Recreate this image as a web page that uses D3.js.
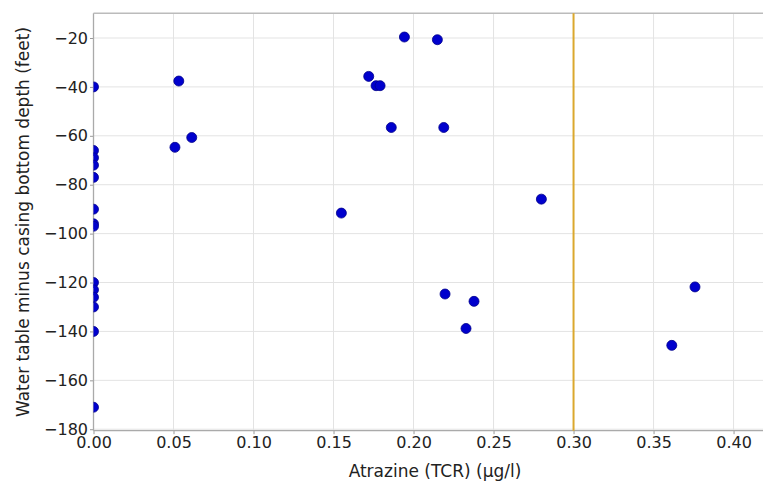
<!DOCTYPE html>
<html><head><meta charset="utf-8">
<script src="https://cdn.jsdelivr.net/npm/d3@7"></script>
<style>body{margin:0;background:#fff}svg{display:block}text{font-family:"DejaVu Sans",sans-serif}</style>
</head><body><svg id="c" width="763" height="483"></svg>
<script>
const atrazine = [0,0,0,0,0,0,0,0,0,0,0,0,0,0,
  0.0533,0.0509,0.0614,0.1943,0.2149,0.1720,0.1766,0.1791,0.1861,0.2189,0.1549,0.2197,0.2378,0.2328,0.2799,0.3759,0.3614];
const depth = [-40,-66,-69,-72,-77,-90,-96,-97,-120,-123,-126,-130,-140,-171,
  -37.6,-64.7,-60.7,-19.6,-20.7,-35.7,-39.5,-39.5,-56.6,-56.6,-91.6,-124.7,-127.7,-138.8,-85.9,-121.8,-145.7];
const xTicks = [0,0.05,0.10,0.15,0.20,0.25,0.30,0.35,0.40];
const yTicks = [-20,-40,-60,-80,-100,-120,-140,-160,-180];
const threshold = [0.30];
const xLabel = "Atrazine (TCR) (µg/l)";
const yLabel = "Water table minus casing bottom depth (feet)";

const L = 93.5, R = 763, T = 13.3, B = 430.7;
const x = d3.scaleLinear().domain([0, 0.4184]).range([L, R]);
const y = d3.scaleLinear().domain([-180.6, -9.9]).range([B, T]);
const svg = d3.select("#c");

svg.append("defs").append("clipPath").attr("id","clip")
  .append("rect").attr("x",L).attr("y",T).attr("width",R-L).attr("height",B-T);

// grid
svg.append("g").selectAll("line").data(xTicks).join("line")
  .attr("x1",d=>x(d)).attr("x2",d=>x(d)).attr("y1",T).attr("y2",B)
  .attr("stroke","#e3e3e3").attr("stroke-width",1);
svg.append("g").selectAll("line").data(yTicks).join("line")
  .attr("x1",L).attr("x2",R).attr("y1",d=>y(d)).attr("y2",d=>y(d))
  .attr("stroke","#e3e3e3").attr("stroke-width",1);

// axes
const fmtX = d3.format(".2f");
const gx = svg.append("g").attr("transform",`translate(0,${B})`)
  .call(d3.axisBottom(x).tickValues(xTicks).tickFormat(fmtX).tickSize(3.5).tickPadding(2.5));
const gy = svg.append("g").attr("transform",`translate(${L},0)`)
  .call(d3.axisLeft(y).tickValues(yTicks).tickFormat(d3.format("d")).tickSize(3.5).tickPadding(2));
[gx,gy].forEach(g=>{
  g.select(".domain").remove();
  g.selectAll(".tick line").attr("stroke","#999");
  g.selectAll(".tick text").attr("fill","#222").style("font-size","16px").style("font-family","DejaVu Sans");
});

// spines
svg.append("line").attr("x1",L).attr("x2",L).attr("y1",T).attr("y2",B).attr("stroke","#aaa").attr("stroke-width",1.3);
svg.append("line").attr("x1",L).attr("x2",R).attr("y1",T).attr("y2",T).attr("stroke","#bbb").attr("stroke-width",1.5);
svg.append("line").attr("x1",L).attr("x2",R).attr("y1",B).attr("y2",B).attr("stroke","#aaa").attr("stroke-width",1.3);

// threshold line
svg.append("g").selectAll("line").data(threshold).join("line")
  .attr("x1",d=>x(d)).attr("x2",d=>x(d)).attr("y1",T).attr("y2",B)
  .attr("stroke","#dba82e").attr("stroke-width",2);

// points
svg.append("g").attr("clip-path","url(#clip)").selectAll("circle")
  .data(atrazine.map((a,i)=>[a,depth[i]])).join("circle")
  .attr("cx",d=>x(d[0])).attr("cy",d=>y(d[1])).attr("r",5)
  .attr("fill","#0000cd").attr("stroke","#00008b").attr("stroke-width",0.8);

// labels
svg.append("text").attr("x",435).attr("y",477).attr("text-anchor","middle")
  .style("font-size","17px").attr("fill","#222").text(xLabel);
svg.append("text").attr("transform",`translate(28.5,${(T+B)/2}) rotate(-90)`).attr("text-anchor","middle")
  .style("font-size","17px").attr("fill","#222").text(yLabel);
</script></body></html>
